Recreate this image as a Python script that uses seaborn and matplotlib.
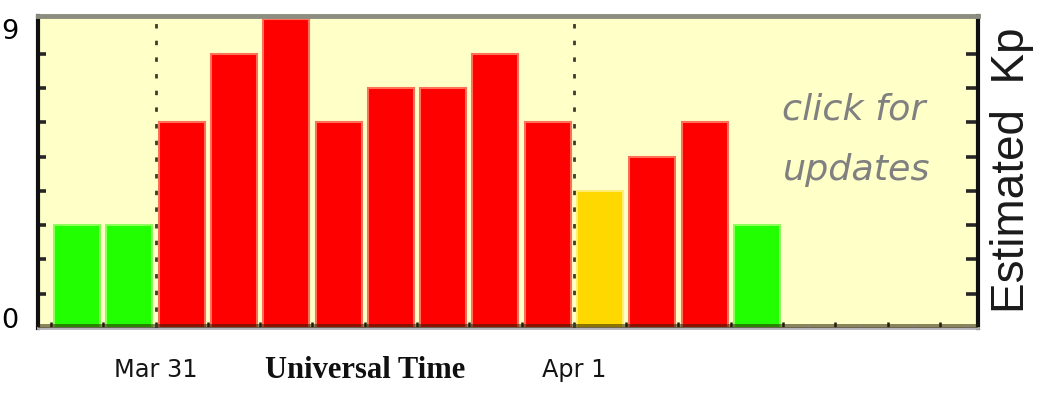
import numpy as np
import pandas as pd
import seaborn as sns
import matplotlib.pyplot as plt
from matplotlib import font_manager as fm
from matplotlib.colors import to_rgba
from matplotlib.transforms import blended_transform_factory

# Estimated planetary K-index, one bar per 3-hour interval
slots = list(range(14))
kp = [3, 3, 6, 8, 9, 6, 7, 7, 8, 6, 4, 5, 6, 3]
n_slots = 18

day_labels = ["Mar 31", "Apr 1"]
day_starts = [1.5, 9.5]

y_labels = ["0", "9"]
y_label_values = [0, 9]


def level(v):
    if v < 4:
        return "quiet"
    if v == 4:
        return "active"
    return "storm"


df = pd.DataFrame({"slot": slots, "kp": kp})
df["level"] = df["kp"].map(level)

fill = {"quiet": "#22FF00", "active": "#FFD800", "storm": "#FF0000"}
edge = {"quiet": "#8CFF5A", "active": "#FFEE70", "storm": "#FF7058"}


def has_font(name):
    try:
        fm.findfont(fm.FontProperties(family=name), fallback_to_default=False)
        return True
    except Exception:
        return False


narrow = "Liberation Sans Narrow" if has_font("Liberation Sans Narrow") else "DejaVu Sans"
narrow_scale = 1.0 if narrow == "Liberation Sans Narrow" else 0.75

sns.set_theme(style="white")
plt.rcParams["font.family"] = ["Liberation Sans", "DejaVu Sans"]

fig = plt.figure(figsize=(10.45, 3.97), dpi=100)
W, H = 1045, 397
ax_left, ax_right, ax_top, ax_bottom = 38, 978, 16, 328
ax = fig.add_axes([ax_left / W, 1 - ax_bottom / H,
                   (ax_right - ax_left) / W, (ax_bottom - ax_top) / H])
ax.set_facecolor("#FFFFC8")

sns.barplot(data=df, x="slot", y="kp", hue="level", palette=fill,
            native_scale=True, width=0.88, dodge=False, legend=False,
            saturation=1, ax=ax, zorder=2)

inv_fill = {tuple(np.round(to_rgba(c), 3)): k for k, c in fill.items()}
for p in ax.patches:
    lvl = inv_fill.get(tuple(np.round(p.get_facecolor(), 3)))
    if lvl is not None:
        p.set_edgecolor(edge[lvl])
        p.set_linewidth(1.5)

ax.set_xlim(-0.75, n_slots - 0.77)
ax.set_ylim(0, 9.1)
ax.set_xlabel("")
ax.set_ylabel("")

# shaded ground strip along the bottom of the plot
ax.axhspan(0, 0.11, color="#2a2000", alpha=0.55, zorder=3, lw=0)

# day boundaries
for x in day_starts:
    ax.axvline(x, color="#3c3c2c", lw=2, ls=(0, (1.6, 4.4)), zorder=4)

# x ticks: white marks at interval centres, dark marks at interval edges
ax.set_xticks(range(n_slots))
ax.set_xticklabels([])
ax.set_xticks([i + 0.5 for i in range(-1, n_slots - 1)], minor=True)
ax.tick_params(axis="x", which="major", direction="in", length=3,
               width=1.6, color="white", bottom=True, top=False)
ax.tick_params(axis="x", which="minor", direction="in", length=4,
               width=1.8, color="#1a1a10", bottom=True, top=False)

# y ticks
ax.set_yticks(y_label_values)
ax.set_yticklabels(y_labels)
ax.set_yticks(range(1, 9), minor=True)
ax.tick_params(axis="y", which="major", length=0, pad=14)
ax.tick_params(axis="y", which="minor", direction="in", length=6,
               width=2.6, left=True, right=True)
shade = {1: "#111108", 2: "#9a9468", 3: "#111108", 4: "#2a2a18",
         5: "#111108", 6: "#2a2a18", 7: "#9a9468", 8: "#111108"}
for t, v in zip(ax.yaxis.get_minor_ticks(), range(1, 9)):
    t.tick1line.set_color(shade[v])
    t.tick2line.set_color(shade[v])
    t.tick2line.set_markersize(9)
for t in ax.get_yticklabels():
    t.set_fontfamily([narrow, "DejaVu Sans"])
    t.set_fontsize(26 * narrow_scale)
    t.set_color("black")
ticks = ax.yaxis.get_major_ticks()
ticks[0].label1.set_va("baseline")
ticks[1].label1.set_va("top")

for side in ["left", "right"]:
    ax.spines[side].set_color("#101010")
    ax.spines[side].set_linewidth(3)
ax.spines["top"].set_color("#8c8c80")
ax.spines["top"].set_linewidth(3.5)
ax.spines["bottom"].set_color("#b4b4bc")
ax.spines["bottom"].set_linewidth(2)
for s in ax.spines.values():
    s.set_visible(True)

# date labels under the day boundaries
trans = blended_transform_factory(ax.transData, ax.transAxes)
for x, lab in zip(day_starts, day_labels):
    ax.text(x, -0.135, lab, transform=trans, ha="center", va="center",
            fontsize=23 * narrow_scale, family=[narrow, "DejaVu Sans"],
            color="#141414")

ax.text(0.348, -0.135, "Universal Time", transform=ax.transAxes,
        ha="center", va="center", fontsize=22, fontweight="bold",
        family=["Liberation Serif", "DejaVu Serif"], color="#101010")

fig.text(1012 / W, 1 - 170 / H, "Estimated  Kp", rotation=90,
         ha="center", va="center", fontsize=33,
         family=["Liberation Sans", "DejaVu Sans"], color="#1a1a1a")

fig.text(782 / W, 1 - 120 / H, "click for", ha="left", va="baseline",
         fontsize=35 * narrow_scale, style="italic",
         family=[narrow, "DejaVu Sans"], color="#808080")
fig.text(783 / W, 1 - 180 / H, "updates", ha="left", va="baseline",
         fontsize=35 * narrow_scale, style="italic",
         family=[narrow, "DejaVu Sans"], color="#808080")

fig.savefig("out.png", dpi=100, facecolor="white")
